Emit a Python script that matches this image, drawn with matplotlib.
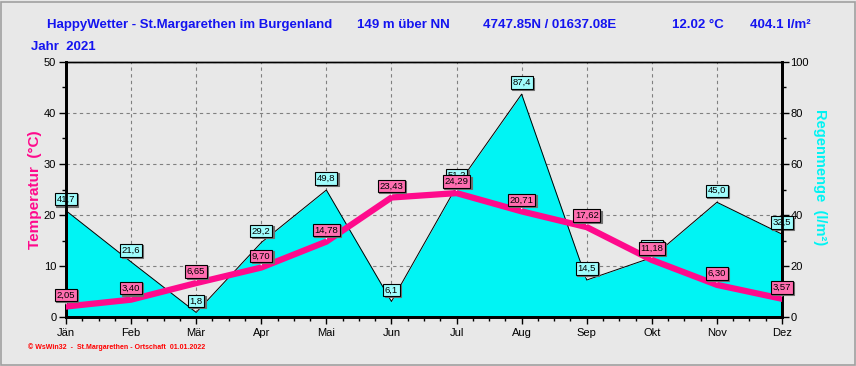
import matplotlib
matplotlib.use("Agg")
import matplotlib.pyplot as plt
from matplotlib.patches import Rectangle
from matplotlib.ticker import MultipleLocator

months = ["Jän", "Feb", "Mär", "Apr", "Mai", "Jun", "Jul", "Aug", "Sep", "Okt", "Nov", "Dez"]
temperature = [2.05, 3.40, 6.65, 9.70, 14.78, 23.43, 24.29, 20.71, 17.62, 11.18, 6.30, 3.57]
precipitation = [41.7, 21.6, 1.8, 29.2, 49.8, 6.1, 51.2, 87.4, 14.5, 23.3, 45.0, 32.5]
temp_ticks = [0, 10, 20, 30, 40, 50]
rain_ticks = [0, 20, 40, 60, 80, 100]

BG = "#e8e8e8"
BLUE = "#1414f0"
PINK = "#ff0a8c"
CYAN = "#00f4f4"

plt.rcParams['font.family'] = ['Liberation Sans', 'DejaVu Sans']

fig = plt.figure(figsize=(8.56, 3.66), dpi=100, facecolor=BG)
x = list(range(len(months)))

pos = [66/856, 1 - 317/366, (782-66)/856, (317-62)/366]
ax2 = fig.add_axes(pos)          # precipitation (bottom layer)
ax = ax2.twinx()                 # temperature (top layer)
ax.yaxis.tick_left()
ax.yaxis.set_label_position("left")
ax2.yaxis.tick_right()
ax2.yaxis.set_label_position("right")
ax.patch.set_visible(False)
ax2.set_facecolor(BG)

ax2.set_xlim(0, 11)
ax2.set_ylim(0, 100)
ax.set_ylim(0, 50)

ax2.set_xticks(x)
ax2.set_xticklabels(months, fontsize=8)
ax2.xaxis.set_minor_locator(MultipleLocator(0.25))
ax2.set_yticks(rain_ticks)
ax2.yaxis.set_minor_locator(MultipleLocator(10))
ax2.grid(True, which='major', color="#808080", linestyle=(0, (3, 3)), linewidth=0.8)
ax2.set_axisbelow(True)

ax2.fill_between(x, precipitation, 0, color=CYAN, zorder=2, linewidth=0)
ax2.plot(x, precipitation, color="black", linewidth=0.7, zorder=3)

ax.plot(x, temperature, color=PINK, linewidth=4.5, solid_joinstyle='miter', zorder=3)
ax.set_yticks(temp_ticks)
ax.yaxis.set_minor_locator(MultipleLocator(5))
ax.tick_params(axis='y', which='major', labelsize=8, length=5, width=1, pad=2)
ax.tick_params(axis='y', which='minor', length=3, width=1)
ax2.tick_params(axis='y', which='major', labelsize=8, length=5, width=1, pad=1)
ax2.tick_params(axis='y', which='minor', length=3, width=1)
ax2.tick_params(axis='x', which='major', length=5, width=1, pad=3)
ax2.tick_params(axis='x', which='minor', length=3, width=1)

for a in (ax, ax2):
    for s in ('left', 'right', 'bottom'):
        a.spines[s].set_linewidth(2)
    a.spines['top'].set_linewidth(1)

ax.set_ylabel("Temperatur  (°C)", color=PINK, fontsize=11, fontweight='bold',
              ha='center', va='center')
ax.yaxis.set_label_coords(-0.043, 0.5)
ax2.set_ylabel("Regenmenge  (l/m²)", color=CYAN, fontsize=10.5, fontweight='bold',
               rotation=-90, ha='center', va='center')
ax2.yaxis.set_label_coords(1.053, 0.55)

def shadowed(axis, text, xv, yv, fc, z):
    axis.annotate("", xy=(xv, yv), xytext=(0, 5), textcoords='offset points',
                  arrowprops=dict(arrowstyle='-', color='white', lw=1), zorder=z)
    axis.annotate(text, xy=(xv, yv), xytext=(1.0, 4.2), textcoords='offset points',
                  ha='center', va='bottom', fontsize=6.8, color='none',
                  bbox=dict(boxstyle='square,pad=0.18', fc='#707070', ec='#707070', lw=0.8),
                  zorder=z, annotation_clip=False)
    axis.annotate(text, xy=(xv, yv), xytext=(0, 5), textcoords='offset points',
                  ha='center', va='bottom', fontsize=6.8, color='black',
                  bbox=dict(boxstyle='square,pad=0.18', fc=fc, ec='black', lw=0.8),
                  zorder=z + 0.1, annotation_clip=False)

for xi, p in zip(x, precipitation):
    shadowed(ax2, f"{p:.1f}".replace(".", ","), xi, p, "#9ffcfc", 5)
for xi, t in zip(x, temperature):
    shadowed(ax, f"{t:.2f}".replace(".", ","), xi, t, "#ff6eb0", 5)

hdr_y = 1 - 25/366
fig.text(47/856, hdr_y, "HappyWetter - St.Margarethen im Burgenland", color=BLUE,
         fontsize=9.5, fontweight='bold', va='center')
fig.text(357/856, hdr_y, "149 m über NN", color=BLUE, fontsize=9.5, fontweight='bold', va='center')
fig.text(483/856, hdr_y, "4747.85N / 01637.08E", color=BLUE, fontsize=9.5, fontweight='bold', va='center')
fig.text(672/856, hdr_y, "12.02 °C", color=BLUE, fontsize=9.5, fontweight='bold', va='center')
fig.text(750/856, hdr_y, "404.1 l/m²", color=BLUE, fontsize=9.5, fontweight='bold', va='center')
fig.text(31/856, 1 - 47/366, "Jahr  2021", color=BLUE, fontsize=9.5, fontweight='bold', va='center')

fig.text(28/856, 1 - 347/366, "© WsWin32  -  St.Margarethen - Ortschaft  01.01.2022", color="#ff0000",
         fontsize=5, fontweight='bold', va='center')

fig.patches.append(Rectangle((0.5/856, 1.5/366), 854.5/856, 363/366, transform=fig.transFigure,
                             fill=False, ec="#a0a0a0", lw=1.2))

fig.savefig("out.png", dpi=100, facecolor=BG)
